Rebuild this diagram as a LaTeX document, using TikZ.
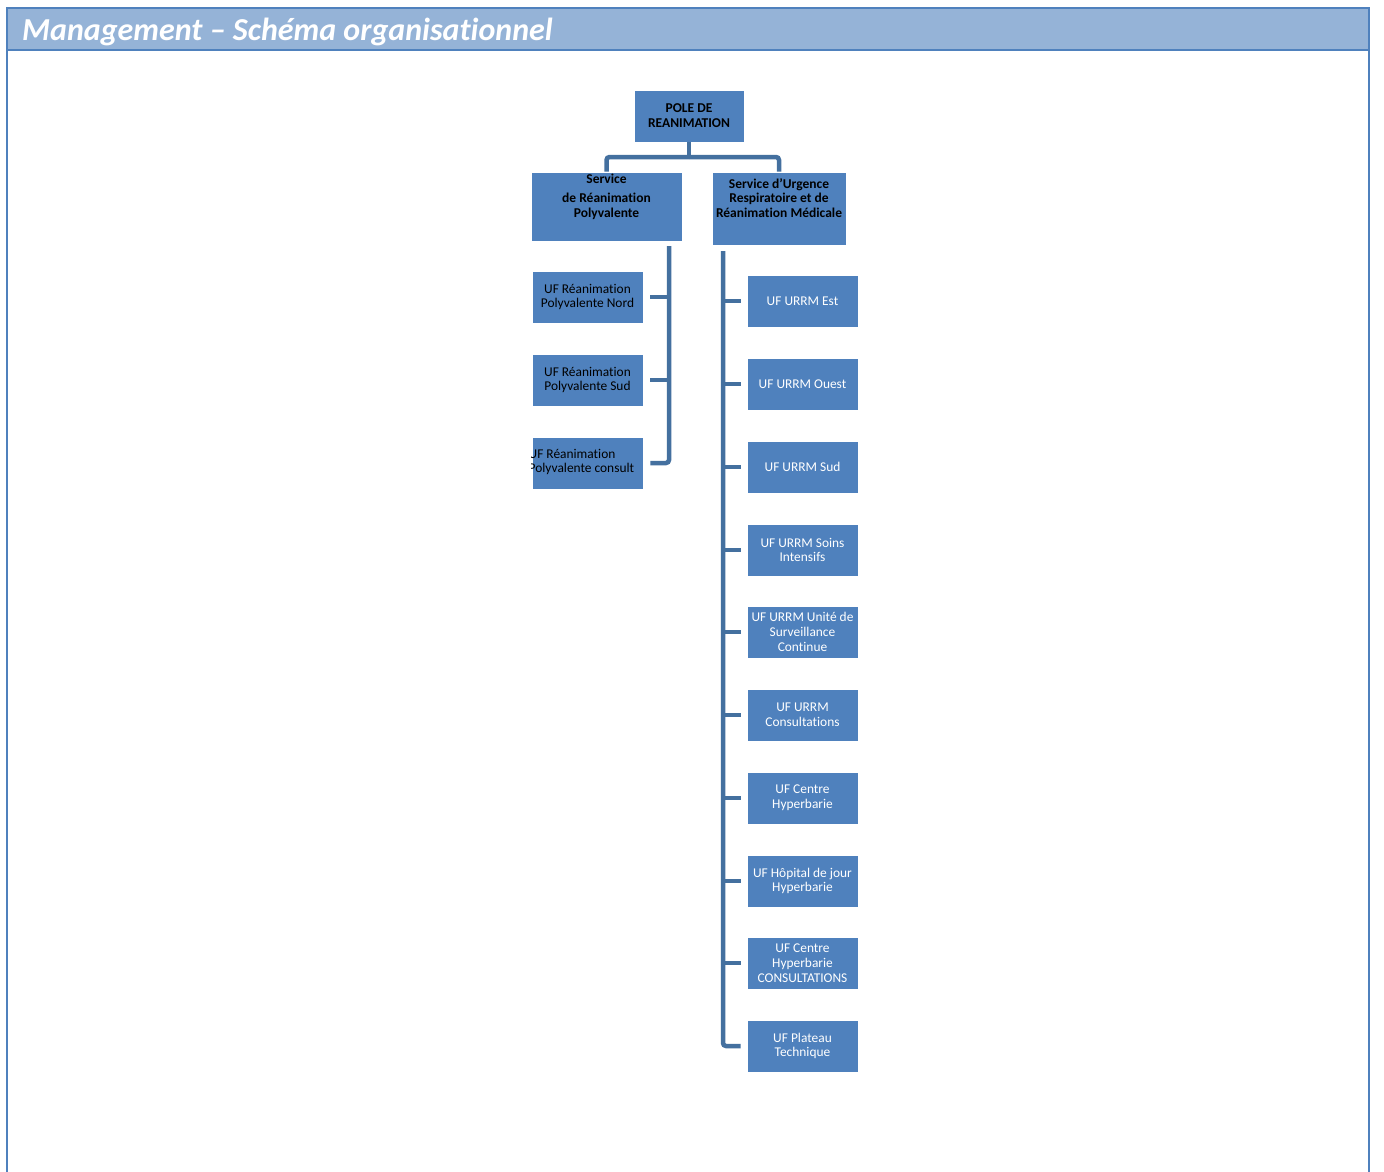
\documentclass[tikz,border=0pt]{standalone}
\usepackage{fontspec}
\setmainfont[Ligatures=NoCommon]{Carlito}
\usetikzlibrary{calc}
\definecolor{boxblue}{HTML}{4F81BD}
\definecolor{linkblue}{HTML}{44709F}
\definecolor{bandblue}{HTML}{95B3D7}
\tikzset{
  unitbox/.style={draw=white, line width=0.6pt, fill=boxblue, inner sep=1pt,
    minimum width=111pt, minimum height=52pt, align=center},
  headfont/.style={font=\fontsize{13.5}{14.8}\selectfont\bfseries},
  headbox/.style={unitbox, text=black, headfont},
  uffont/.style={font=\fontsize{13.4}{14.8}\selectfont},
  leftuf/.style={unitbox, text=black, uffont},
  rightuf/.style={unitbox, text=white, uffont},
  conn/.style={draw=linkblue, line width=4.5pt, rounded corners=3pt}
}
\begin{document}
\begin{tikzpicture}[x=1pt,y=-1pt]
\useasboundingbox (0,0) rectangle (1384,1171);
\fill[white] (0,0) rectangle (1384,1171);
% page frame and title band
\draw[boxblue, line width=2pt] (7,1175) -- (7,8) -- (1369,8) -- (1369,1175);
\filldraw[fill=bandblue, draw=boxblue, line width=2pt] (7,8) rectangle (1369,50);
\node[anchor=base west, text=white, inner sep=0pt,
  font=\fontsize{32}{34}\selectfont\bfseries\itshape] (title) at (22,40)
  {Management – Schéma organisationnel};

% top of the hierarchy
\node[headbox, minimum width=110pt, minimum height=52pt] (pole) at (689,116)
  {POLE DE\\REANIMATION};
\node[headbox, minimum width=151pt, minimum height=69pt] (srp) at (606.5,206.5) {};
\node[headfont, align=center, inner sep=0pt, anchor=north] (srptxt) at (606.5,174)
  {Service\\[4pt]de Réanimation\\Polyvalente};
\node[headbox, minimum width=134pt, minimum height=73pt] (surrm) at (779,208.5) {};
\node[headfont, align=center, inner sep=0pt, anchor=north] (surrmtxt) at (779,178)
  {Service d’Urgence\\Respiratoire et de\\Réanimation Médicale};

\coordinate (jn) at (689,157);
\draw[conn] (pole.south) -- (jn);
\draw[conn] (jn) -| (srp.north);
\draw[conn] (jn) -| (surrm.north);

% units of the Service de Réanimation Polyvalente
\node[leftuf] (l1) at (587.5,297) {UF Réanimation\\Polyvalente Nord};
\node[leftuf] (l2) at (587.5,380) {UF Réanimation\\Polyvalente Sud};
\node[leftuf] (l3) at (587.5,463) {};
\begin{scope}
  \clip (l3.south west) rectangle (l3.north east);
  \node[anchor=west, align=left, text=black, inner sep=0pt, uffont] (l3txt)
    at (528.5,462) {UF Réanimation\\Polyvalente consult};
\end{scope}

\coordinate (lt) at (669,246);
\draw[conn] ([xshift=7pt]l1.east) -- (l1.east -| lt);
\draw[conn] ([xshift=7pt]l2.east) -- (l2.east -| lt);
\draw[conn] (lt) -- (lt |- l3.east) -- ([xshift=7pt]l3.east);

% units of the SURRM
\node[rightuf] (u1) at (802.5,301) {UF URRM Est};
\node[rightuf] (u2) at (802.5,384) {UF URRM Ouest};
\node[rightuf] (u3) at (802.5,467) {UF URRM Sud};
\node[rightuf] (u4) at (802.5,550) {UF URRM Soins\\Intensifs};
\node[rightuf] (u5) at (802.5,632) {UF URRM Unité de\\Surveillance\\Continue};
\node[rightuf] (u6) at (802.5,715) {UF URRM\\Consultations};
\node[rightuf] (u7) at (802.5,798) {UF Centre\\Hyperbarie};
\node[rightuf] (u8) at (802.5,881) {UF Hôpital de jour\\Hyperbarie};
\node[rightuf] (u9) at (802.5,963) {UF Centre\\Hyperbarie\\CONSULTATIONS};
\node[rightuf] (u10) at (802.5,1046) {UF Plateau\\Technique};

\coordinate (rt) at (723,251);
\foreach \u in {u1,u2,u3,u4,u5,u6,u7,u8,u9}
  \draw[conn] (\u.west -| rt) -- ([xshift=-6pt]\u.west);
\draw[conn] (rt) -- (rt |- u10.west) -- ([xshift=-6pt]u10.west);
\end{tikzpicture}
\end{document}
